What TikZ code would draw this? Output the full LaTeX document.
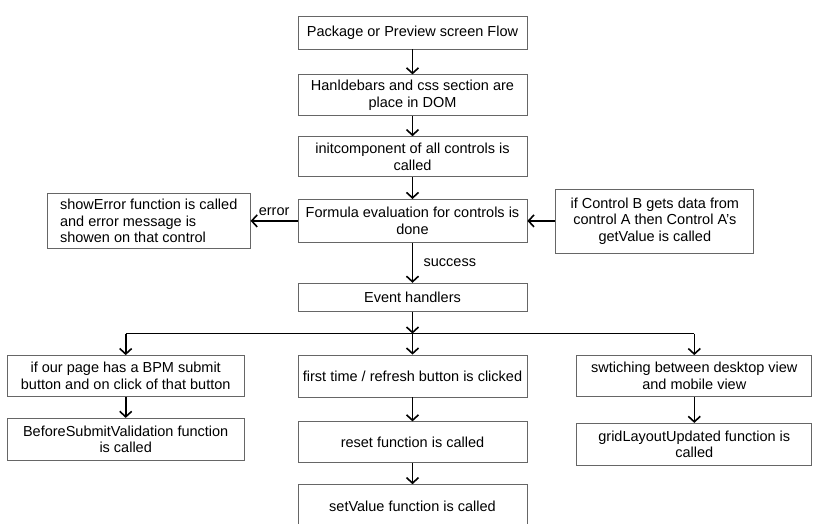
\documentclass[tikz,border=0pt]{standalone}
\usepackage{fontspec}
\setmainfont{Liberation Sans}
\usepackage{tikz}
\usetikzlibrary{
  arrows.meta,
  positioning
}
\tikzset{
  flowbox/.style={draw=black!60, line width=0.8pt, align=center,
    font=\fontsize{14.5}{16.5}\selectfont, inner sep=2pt},
  arr/.style={-{Straight Barb[length=5.5pt,width=12pt]}, line width=1.6pt},
}

\begin{document}
\begin{tikzpicture}[
  mainbox/.style={flowbox, minimum width=229pt},
  node distance=21pt
]
  \useasboundingbox (0,0) rectangle (820pt,-523pt);

  % main column
  \node[mainbox, minimum height=33pt] (pkg) at (412.5pt,-32.5pt)
    {Package or Preview screen Flow};
  \node[mainbox, minimum height=41pt, below=25pt of pkg] (dom)
    {Hanldebars and css section are\\place in DOM};
  \node[mainbox, minimum height=40pt, below=20pt of dom] (init)
    {initcomponent of all controls is\\called};
  \node[mainbox, minimum height=43pt, below=22pt of init] (formula)
    {Formula evaluation for controls is\\done};

  % side boxes
  \node[flowbox, align=left, minimum width=203pt, minimum height=55pt,
        left=47pt of formula] (showerr)
    {showError function is called\\and error message is\\showen on that control};
  \node[flowbox, minimum width=198pt, minimum height=64pt,
        right=28pt of formula] (getval)
    {if Control B gets data from\\control A then Control A's\\getValue is called};

  \node[mainbox, minimum height=28pt, below=40pt of formula] (events)
    {Event handlers};
  \coordinate[below=22pt of events] (split);

  % event branches
  \node[mainbox, minimum height=42pt, below=43pt of events] (refresh)
    {first time / refresh button is clicked};
  \node[flowbox, minimum width=237pt, minimum height=41pt,
        left=53pt of refresh] (bpm)
    {if our page has a BPM submit\\button and on click of that button};
  \node[flowbox, minimum width=235pt, minimum height=41pt,
        right=49pt of refresh] (switch)
    {swtiching between desktop view\\and mobile view};

  \node[flowbox, minimum width=237pt, minimum height=42pt,
        below=21pt of bpm] (presubmit)
    {BeforeSubmitValidation function\\is called};
  \node[mainbox, minimum height=41pt, below=24pt of refresh] (reset)
    {reset function is called};
  \node[mainbox, minimum height=43pt, below=21pt of reset] (setval)
    {setValue function is called};
  \node[flowbox, minimum width=235pt, minimum height=42pt,
        below=26pt of switch] (grid)
    {gridLayoutUpdated function is\\called};

  % Arrows
  \foreach \a/\b in {pkg/dom, dom/init, init/formula} {
    \draw[arr] (\a) -- (\b);
  }
  \draw[arr] (formula) -- (events)
    node[midway, right=7pt, font=\fontsize{14.5}{16.5}\selectfont] {success};
  \draw[arr] (formula) -- (showerr)
    node[midway, above=1pt, font=\fontsize{14.5}{16.5}\selectfont] {error};
  \draw[arr] (getval) -- (formula);

  \draw[arr] (events) -- (split);
  \draw[line width=1.6pt] (split -| bpm) -- (split -| switch);
  \foreach \b in {bpm, refresh, switch} {
    \draw[arr] (split -| \b) -- (\b);
  }
  \foreach \a/\b in {bpm/presubmit, refresh/reset, reset/setval, switch/grid} {
    \draw[arr] (\a) -- (\b);
  }
\end{tikzpicture}
\end{document}
